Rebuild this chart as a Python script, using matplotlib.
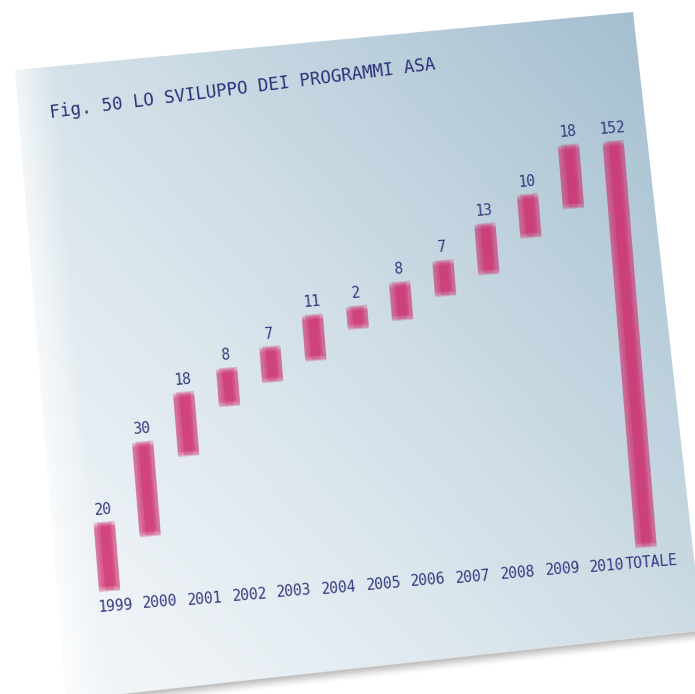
import numpy as np
import matplotlib
matplotlib.use('Agg')
import matplotlib.pyplot as plt
from matplotlib.patches import Polygon
from matplotlib.transforms import Affine2D

# data
years = ['1999', '2000', '2001', '2002', '2003', '2004', '2005',
         '2006', '2007', '2008', '2009', '2010', 'TOTALE']
increments = [20, 30, 18, 8, 7, 11, 2, 8, 7, 13, 10, 18]
total = 152
title = 'Fig. 50 LO SVILUPPO DEI PROGRAMMI ASA'

W, H = 695, 694
fig = plt.figure(figsize=(W / 100, H / 100), dpi=100)
ax = fig.add_axes([0, 0, 1, 1])
ax.set_xlim(0, W)
ax.set_ylim(H, 0)
ax.axis('off')

# ---- the tilted card ----
card = np.array([[15, 70], [633, 12], [702, 630], [66, 700]])

# soft shadow under the bottom edge
for k in range(1, 12):
    ax.plot([60, 702], [700 + k, 630 + k], color='0.30',
            alpha=0.22 * (1 - k / 12) ** 1.5, lw=1.6, zorder=0.5,
            solid_capstyle='butt')

yy, xx = np.mgrid[0:H, 0:W] + 0.5
u = np.clip(0.5 * (xx - 60) / 600 + 0.5 * (690 - yy) / 650, 0, 1)
c0 = np.array([242, 246, 249]) / 255
c1 = np.array([164, 191, 207]) / 255
img = c0 + (c1 - c0) * (u[..., None] ** 1.3)
xl = 15 + (yy - 70) * 0.085
w = np.clip(1 - (xx - xl) / 40, 0, 1) * 0.65
img = img * (1 - w[..., None]) + w[..., None]

poly = Polygon(card, closed=True, facecolor='none', edgecolor='none')
ax.add_patch(poly)
im = ax.imshow(img, extent=(0, W, H, 0), zorder=1, aspect='auto',
               interpolation='bilinear')
im.set_clip_path(poly)

# ---- chart coordinates on the card ----
theta = np.deg2rad(4.65)
sx, sy = 44.85, 2.565
ex = (sx * np.cos(theta), -sx * np.sin(theta))
ey = (-sy * np.sin(theta), -sy * np.cos(theta))
orig = (109, 582)
chart_tf = Affine2D(np.array([[ex[0], ey[0], orig[0]],
                              [ex[1], ey[1], orig[1]],
                              [0, 0, 1]])) + ax.transData

idx = np.arange(len(years))
cum = np.concatenate([[0], np.cumsum(increments)])
bottoms = np.array(list(cum[:-1]) + [0])
heights = np.array(increments + [total])

bar_color = '#cf2a6b'
# overlapping brush strokes, slightly shifted, ragged ends
stroke_dx = [-0.07, -0.035, 0.0, 0.035, 0.07, 0.02]
stroke_w = [0.34, 0.40, 0.46, 0.40, 0.34, 0.24]
top_ext = [1.6, 3.2, 2.4, 3.6, 1.8, 2.8]
bot_ext = [3.0, 1.8, 3.6, 2.2, 3.2, 1.4]
for dx, sw, et, eb in zip(stroke_dx, stroke_w, top_ext, bot_ext):
    ax.bar(idx + dx, heights + et + eb, bottom=bottoms - eb, width=sw,
           color=bar_color, alpha=0.28, linewidth=0, transform=chart_tf,
           zorder=3)

label_color = '#363a80'
mono = 'DejaVu Sans Mono'
rot = np.rad2deg(theta)
for i in idx:
    ax.text(i, bottoms[i] + heights[i] + 5.5, str(heights[i]),
            transform=chart_tf, rotation=rot, rotation_mode='anchor',
            ha='center', va='bottom', fontsize=10.5, family=mono,
            color=label_color, zorder=4)
    ax.text(i + 0.1, -9.5, years[i], transform=chart_tf, rotation=rot,
            rotation_mode='anchor', ha='center', va='center',
            fontsize=10.5, family=mono, color=label_color, zorder=4)

ax.text(50, 118, title, rotation=7.2, rotation_mode='anchor',
        ha='left', va='baseline', fontsize=12.5, family=mono,
        color='#2a3078', zorder=4)

ax.set_xlim(0, W)
ax.set_ylim(H, 0)
fig.savefig('out.png', dpi=100)
